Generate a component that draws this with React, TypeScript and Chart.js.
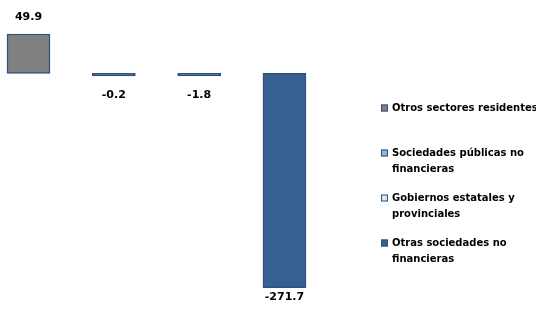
import React, { useEffect, useRef } from "react";
import { Chart, registerables } from "chart.js";

Chart.register(...registerables);

const seriesNames = [
  "Otros sectores residentes",
  "Sociedades públicas no financieras",
  "Gobiernos estatales y provinciales",
  "Otras sociedades no financieras",
];
const seriesValues = [49.9, -0.2, -1.8, -271.7];
const seriesColors = ["#808080", "#95B3D7", "#DCE6F2", "#376092"];
const borderColor = "#30507a";

const LABEL_FONT = "bold 11px 'DejaVu Sans'";
const LEGEND_FONT = "bold 10px 'DejaVu Sans'";

function wrap(ctx: CanvasRenderingContext2D, text: string, maxW: number): string[] {
  const words = text.split(" ");
  const lines: string[] = [];
  let cur = "";
  for (const w of words) {
    const t = cur ? cur + " " + w : w;
    if (ctx.measureText(t).width > maxW && cur) {
      lines.push(cur);
      cur = w;
    } else cur = t;
  }
  if (cur) lines.push(cur);
  return lines;
}

const labelPlugin = {
  id: "valueLabels",
  afterDatasetsDraw(chart: any) {
    const ctx = chart.ctx as CanvasRenderingContext2D;
    ctx.save();
    ctx.font = LABEL_FONT;
    ctx.fillStyle = "#000";
    ctx.textAlign = "center";
    ctx.textBaseline = "middle";
    chart.data.datasets.forEach((ds: any, i: number) => {
      const meta = chart.getDatasetMeta(i);
      meta.data.forEach((el: any, j: number) => {
        const v = ds.data[j].y;
        let y: number;
        if (v >= 0) y = Math.min(el.y, el.base) - 17;
        else y = Math.min(Math.max(el.y, el.base) + 19, chart.height - 16);
        ctx.fillText(v.toFixed(1), el.x, y);
      });
    });
    ctx.restore();
  },
};

const legendPlugin = {
  id: "sideLegend",
  afterDraw(chart: any) {
    const ctx = chart.ctx as CanvasRenderingContext2D;
    ctx.save();
    ctx.font = LEGEND_FONT;
    ctx.textBaseline = "middle";
    ctx.textAlign = "left";
    const x0 = 381;
    let y = 108;
    seriesNames.forEach((name, i) => {
      ctx.fillStyle = seriesColors[i];
      ctx.fillRect(x0, y - 3.5, 7, 7);
      ctx.strokeStyle = borderColor;
      ctx.lineWidth = 1;
      ctx.strokeRect(x0 + 0.5, y - 3.5 + 0.5, 6, 6);
      ctx.fillStyle = "#000";
      const lines = wrap(ctx, name, 148);
      lines.forEach((ln, k) => ctx.fillText(ln, x0 + 11, y + k * 16));
      y += 45;
    });
    ctx.restore();
  },
};

export default function App() {
  const ref = useRef<HTMLCanvasElement>(null);
  useEffect(() => {
    document.body.style.margin = "0";
    const chart = new Chart(ref.current!, {
      type: "bar",
      data: {
        datasets: seriesNames.map((name, i) => ({
          label: name,
          data: [{ x: i, y: seriesValues[i] }],
          backgroundColor: (c: any) => {
            const y = c.chart.scales?.y;
            if (!y) return seriesColors[i];
            const h = Math.abs(y.getPixelForValue(seriesValues[i]) - y.getPixelForValue(0));
            return h < 3 ? borderColor : seriesColors[i];
          },
          borderColor: borderColor,
          borderWidth: 1.5,
          borderSkipped: false,
          barThickness: 43,
          minBarLength: 2.5,
          grouped: false,
        })),
      },
      options: {
        animation: false,
        responsive: false,
        layout: { padding: { left: 0, right: 186, top: 26, bottom: 3 } },
        scales: {
          x: { type: "linear", display: false, offset: false, min: -0.334, max: 3.768 },
          y: { display: false, min: -300, max: 60 },
        },
        plugins: { legend: { display: false }, tooltip: { enabled: false } },
      },
      plugins: [labelPlugin, legendPlugin],
    } as any);
    return () => chart.destroy();
  }, []);
  return (
    <div style={{ width: 536, height: 313 }}>
      <canvas ref={ref} width={536} height={313} />
    </div>
  );
}
